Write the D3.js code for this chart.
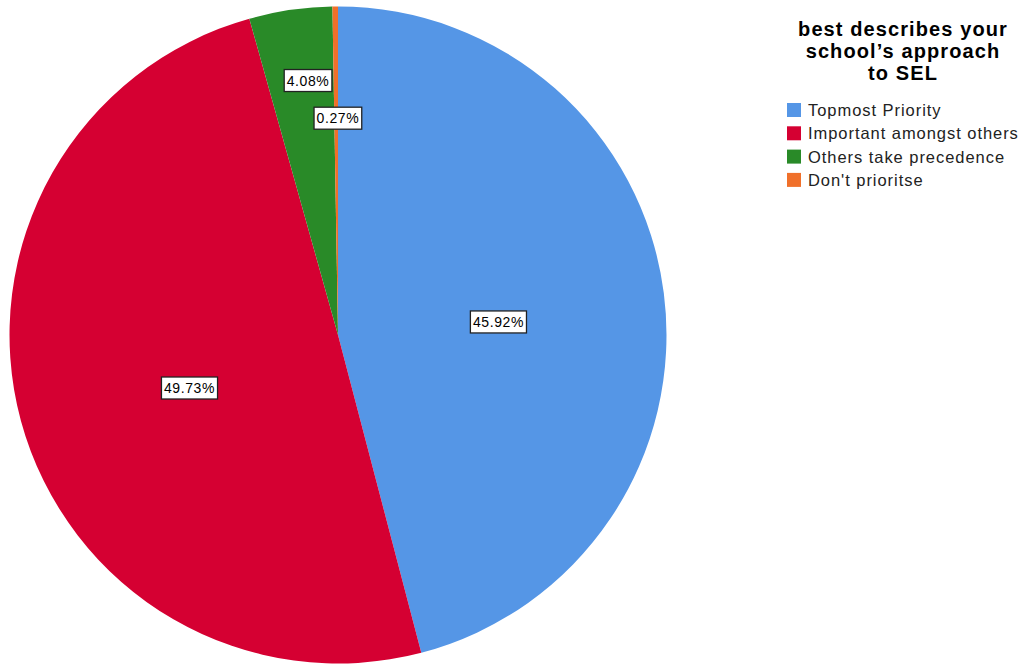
<!DOCTYPE html>
<html>
<head>
<meta charset="utf-8">
<script src="https://cdn.jsdelivr.net/npm/d3@7"></script>
<style>
  html, body { margin: 0; padding: 0; background: #fff; }
  svg { display: block; }
</style>
</head>
<body>
<svg id="chart" width="1022" height="664"></svg>
<script>
const categories = ["Topmost Priority", "Important amongst others", "Others take precedence", "Don't prioritse"];
const values = [45.92, 49.73, 4.08, 0.27];
const labels = ["45.92%", "49.73%", "4.08%", "0.27%"];
const colors = ["#5596E6", "#D50032", "#298A28", "#F0702A"];
const labelRadiusFactor = [0.49, 0.48, 0.78, 0.66];
const labelAngleShift = [0.047, -0.078, 0.028, 0.008]; // radians
const titleLines = ["best describes your", "school\u2019s approach", "to SEL"];

const svg = d3.select("#chart");
const cx = 338, cy = 335, R = 328.5;

const pie = d3.pie().sort(null).value(d => d)(values);
const arc = d3.arc().innerRadius(0).outerRadius(R);

const g = svg.append("g").attr("transform", `translate(${cx},${cy})`);
g.selectAll("path.slice").data(pie).join("path")
  .attr("class", "slice")
  .attr("d", arc)
  .attr("fill", (d, i) => colors[i]);

// labels
const font = "Arial, 'Liberation Sans', sans-serif";
pie.forEach((d, i) => {
  const a = (d.startAngle + d.endAngle) / 2 + labelAngleShift[i];
  const r = R * labelRadiusFactor[i];
  const x = Math.sin(a) * r, y = -Math.cos(a) * r;
  const lg = g.append("g").attr("transform", `translate(${x},${y})`);
  const t = lg.append("text")
    .attr("text-anchor", "middle")
    .attr("dominant-baseline", "central")
    .attr("font-family", font)
    .attr("font-size", 14)
    .attr("letter-spacing", 0.6)
    .attr("fill", "#000")
    .text(labels[i]);
  const bb = t.node().getBBox();
  lg.insert("rect", "text")
    .attr("x", bb.x - 2.5).attr("y", -11)
    .attr("width", bb.width + 5).attr("height", 22)
    .attr("fill", "#fff")
    .attr("stroke", "#222").attr("stroke-width", 1.3);
});

// legend title
const title = svg.append("text")
  .attr("font-family", font)
  .attr("font-weight", "bold")
  .attr("font-size", 20)
  .attr("letter-spacing", 1.1)
  .attr("text-anchor", "middle")
  .attr("fill", "#000");
titleLines.forEach((s, i) => {
  title.append("tspan").attr("x", 903).attr("y", 36 + i * 22).text(s);
});

// legend items
const leg = svg.append("g");
categories.forEach((c, i) => {
  const y = 110 + i * 23.3;
  leg.append("rect")
    .attr("x", 787).attr("y", y - 7).attr("width", 14).attr("height", 14)
    .attr("fill", colors[i]);
  leg.append("text")
    .attr("x", 808).attr("y", y)
    .attr("dominant-baseline", "central")
    .attr("font-family", font)
    .attr("font-size", 16.5)
    .attr("letter-spacing", 0.95)
    .attr("fill", "#222")
    .text(c);
});
</script>
</body>
</html>
